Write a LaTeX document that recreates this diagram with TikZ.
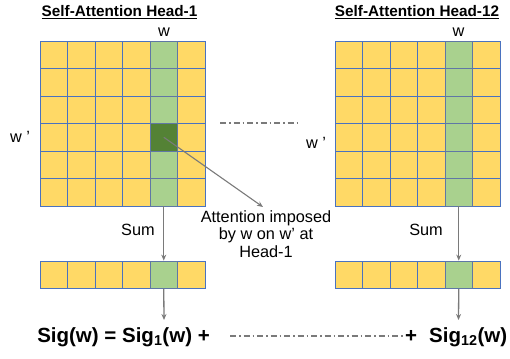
\documentclass[tikz,border=0pt]{standalone}
\usepackage{fontspec}
\setmainfont{Liberation Sans}
\usetikzlibrary{arrows.meta}
\definecolor{cellyellow}{HTML}{FFD966}
\definecolor{cellgreen}{HTML}{A9D18E}
\definecolor{darkgreen}{HTML}{548235}
\definecolor{gridblue}{HTML}{4A72C0}
\definecolor{arrowgray}{HTML}{7A7A7A}
\tikzset{
  cell/.style={draw=gridblue, line width=0.8pt, minimum size=27.5pt, inner sep=0pt, fill=cellyellow},
  gcell/.style={cell, fill=cellgreen, draw=gridblue!60!gray},
  dcell/.style={cell, fill=darkgreen, draw=gridblue!60!gray},
  lbl/.style={font=\fontsize{16.3}{17.5}\selectfont, inner sep=0pt},
  ttl/.style={font=\fontsize{15.3}{17}\selectfont\bfseries, inner sep=0pt},
  frm/.style={font=\fontsize{20.5}{22}\selectfont\bfseries, inner sep=0pt},
  conn/.style={draw=arrowgray, line width=1.3pt, -{Stealth[length=6pt,width=5pt]}},
  dashdot/.style={draw=arrowgray, line width=1.2pt, dash pattern=on 6pt off 3pt on 1.5pt off 3pt}
}
\begin{document}
\begin{tikzpicture}[x=1pt,y=-1pt]
\useasboundingbox (0,0) rectangle (510,358);
% grids
\foreach \g/\x in {L/40,R/335}{
  \foreach \r in {1,...,6}{
    \foreach \c in {1,2,3,4,6}{
      \node[cell] (\g-\r-\c) at ({\x+27.5*(\c-0.5)},{41+27.5*(\r-0.5)}) {};
    }
  }
  \foreach \r in {1,...,6}{
    \node[gcell] (\g-\r-5) at ({\x+27.5*4.5},{41+27.5*(\r-0.5)}) {};
  }
  \foreach \c in {1,2,3,4,6}{
    \node[cell] (\g B-\c) at ({\x+27.5*(\c-0.5)},274.75) {};
  }
  \node[gcell] (\g B-5) at ({\x+27.5*4.5},274.75) {};
}
\node[dcell] (L-4-5d) at (L-4-5) {};
% titles
\node[ttl] (t1) at (119.5,12) {\underline{Self-Attention Head-1}};
\node[ttl] (t12) at (417,12) {\underline{Self-Attention Head-12}};
% labels
\node[lbl] (wL) at (164,32) {w};
\node[lbl] (wR) at (458.5,32) {w};
\node[lbl] (wpL) at (20,137) {w ’};
\node[lbl] (wpR) at (316,143) {w ’};
\node[lbl] (sumL) at (138,230) {Sum};
\node[lbl] (sumR) at (426,230) {Sum};
\node[lbl, align=center, anchor=north] (att) at (266,210) {Attention imposed\\by w on w’ at\\Head-1};
% formula
\node[frm] (fL) at (123.5,337) {Sig(w) = Sig\textsubscript{1}(w) +};
\node[frm] (plus) at (411,336) {+};
\node[frm, anchor=west] (fR) at (429,337) {Sig\textsubscript{12}(w)};
% connectors
\draw[conn] (L-6-5.south) -- (LB-5.north);
\draw[conn] (R-6-5.south) -- (RB-5.north);
\coordinate (eL) at (164,320);
\coordinate (eR) at (458.5,320);
\draw[conn] (LB-5.south) -- (eL);
\draw[conn] (RB-5.south) -- (eR);
\coordinate (ae) at (263,207);
\draw[conn, line width=1.1pt] (L-4-5d.center) -- (ae);
\coordinate (d1a) at (220,123);
\coordinate (d1b) at (300,123);
\draw[dashdot] (d1a) -- (d1b);
\coordinate (d2a) at (230,336);
\draw[dashdot] (d2a) -- (plus.west);
\end{tikzpicture}
\end{document}
